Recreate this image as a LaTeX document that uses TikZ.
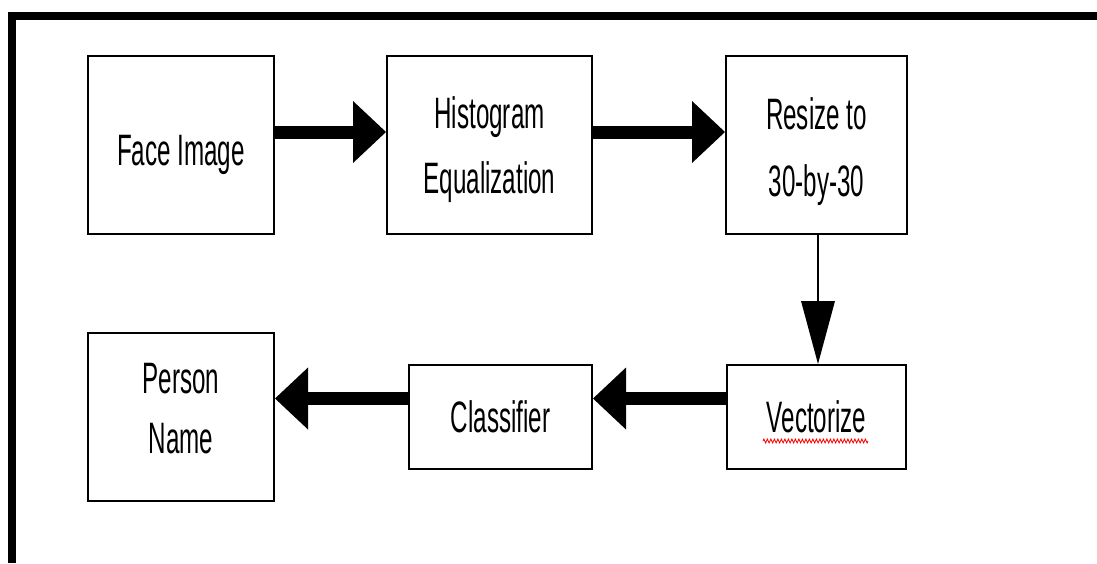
\documentclass[tikz,border=0pt]{standalone}
\usepackage{fontspec}
\setmainfont[FakeStretch=0.55]{Liberation Sans}
\usetikzlibrary{arrows.meta,decorations.pathmorphing}
\newcommand\boxtext[3]{\raisebox{#1}[\height][\depth]{\fontsize{44pt}{#2}\selectfont\begin{tabular}{@{}c@{}}#3\end{tabular}}}
\begin{document}
\begin{tikzpicture}[x=1pt,y=-1pt,
  blk/.style={draw=black,line width=2pt,inner sep=0pt,align=center,
    font=\fontsize{44pt}{64pt}\selectfont},
  bigarrow/.style={line width=13pt,-{Triangle[length=33pt,width=62pt,line width=0pt]}},
  thinarrow/.style={line width=1.5pt,-{Triangle[length=63pt,width=34pt,line width=0pt]}},
  squiggle/.style={red,line width=0.8pt,decorate,decoration={zigzag,amplitude=2pt,segment length=3.5pt}}
]
\useasboundingbox (0,0) rectangle (1097,563);
% frame
\fill[black] (8,12) rectangle (1097,20);
\fill[black] (8,12) rectangle (16,563);
% blocks
\node[blk,minimum width=186pt,minimum height=178pt] (face) at (181,145) {\boxtext{-8pt}{64pt}{Face Image}};
\node[blk,minimum width=205pt,minimum height=178pt] (hist) at (489.5,145) {\boxtext{-3pt}{65pt}{Histogram\\Equalization}};
\node[blk,minimum width=181pt,minimum height=178pt] (resize) at (816.5,145) {\boxtext{-5pt}{67pt}{Resize to\\30-by-30}};
\node[blk,minimum width=179pt,minimum height=104pt] (vect) at (816.5,417) {Vectorize};
\node[blk,minimum width=183pt,minimum height=104pt] (class) at (500.5,417) {\boxtext{-3pt}{64pt}{Classifier}};
\node[blk,minimum width=186pt,minimum height=168pt] (person) at (181,417) {\boxtext{6pt}{60pt}{Person\\Name}};
% connectors
\draw[bigarrow] ([yshift=13pt]face.east) -- ([yshift=13pt]hist.west);
\draw[bigarrow] ([yshift=13pt]hist.east) -- ([yshift=13pt]resize.west);
\draw[thinarrow] ([xshift=1.5pt]resize.south) -- ([xshift=1.5pt]resize.south |- vect.north);
\draw[bigarrow] ([yshift=18.5pt]vect.west) -- ([yshift=18.5pt]class.east);
\draw[bigarrow] ([yshift=18.5pt]class.west) -- ([yshift=18.5pt]person.east);
% spell-check underline
\draw[squiggle] ([xshift=-53.5pt,yshift=-24pt]vect.center) -- ([xshift=51.5pt,yshift=-24pt]vect.center);
\end{tikzpicture}
\end{document}
